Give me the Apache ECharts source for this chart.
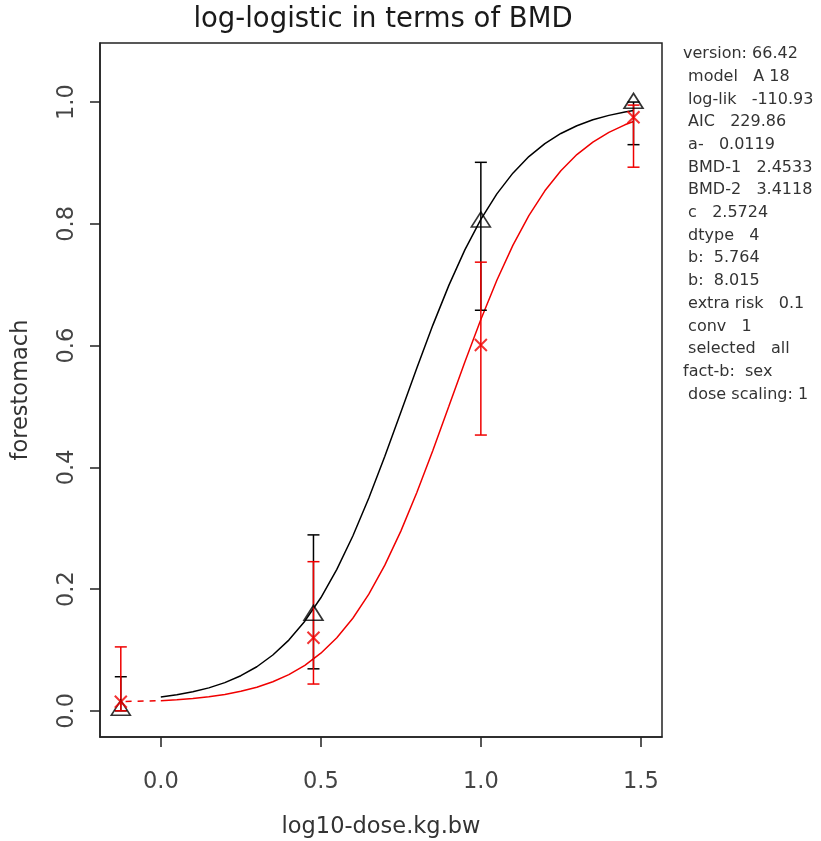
<!DOCTYPE html>
<html>
<head>
<meta charset="utf-8">
<script src="https://cdn.jsdelivr.net/npm/echarts@6/dist/echarts.min.js"></script>
<style>
html,body{margin:0;padding:0;background:#fff;}
#c{width:821px;height:841px;}
</style>
</head>
<body>
<div id="c"></div>
<script>
// ---- data ----
const doseX = [-0.125, 0.477, 1.0, 1.477];
const blackObs = [0.005, 0.161, 0.807, 1.002];
const blackLow = [0.0, 0.069, 0.658, 0.930];
const blackHigh = [0.056, 0.289, 0.901, 1.0];
const redObs = [0.015, 0.120, 0.601, 0.975];
const redLow = [0.0, 0.044, 0.453, 0.893];
const redHigh = [0.105, 0.245, 0.737, 0.995];

const curveX = [0, 0.05, 0.10, 0.15, 0.20, 0.25, 0.30, 0.35, 0.40, 0.45, 0.50, 0.55, 0.60, 0.65, 0.70, 0.75, 0.80, 0.85, 0.90, 0.95, 1.00, 1.05, 1.10, 1.15, 1.20, 1.25, 1.30, 1.35, 1.40, 1.45, 1.477];
const blackCurve = [0.0227, 0.0264, 0.0312, 0.0377, 0.0463, 0.0577, 0.0724, 0.0917, 0.1162, 0.1473, 0.1857, 0.2323, 0.2871, 0.3495, 0.4180, 0.4903, 0.5632, 0.6336, 0.6989, 0.7571, 0.8072, 0.8491, 0.8832, 0.9104, 0.9318, 0.9484, 0.9611, 0.9708, 0.9781, 0.9836, 0.9860];
const redCurve = [0.0166, 0.0181, 0.0203, 0.0231, 0.0269, 0.0320, 0.0388, 0.0477, 0.0595, 0.0748, 0.0947, 0.1201, 0.1521, 0.1916, 0.2393, 0.2952, 0.3586, 0.4277, 0.5002, 0.5730, 0.6429, 0.7073, 0.7645, 0.8134, 0.8542, 0.8873, 0.9137, 0.9343, 0.9503, 0.9626, 0.9680];
const redDashX = [-0.11, 0.0];
const redDashY = [0.0155, 0.0166];

const xTicks = [0, 0.5, 1.0, 1.5];
const yTicks = [0, 0.2, 0.4, 0.6, 0.8, 1.0];
const xTickLabels = ['0.0', '0.5', '1.0', '1.5'];
const yTickLabels = ['0.0', '0.2', '0.4', '0.6', '0.8', '1.0'];

const titleText = 'log-logistic in terms of BMD';
const xName = 'log10-dose.kg.bw';
const yName = 'forestomach';
const infoLines = ['version: 66.42', ' model   A 18', ' log-lik   -110.93', ' AIC   229.86', ' a-   0.0119', ' BMD-1   2.4533', ' BMD-2   3.4118', ' c   2.5724', ' dtype   4', ' b:  5.764', ' b:  8.015', ' extra risk   0.1', ' conv   1', ' selected   all', 'fact-b:  sex', ' dose scaling: 1'];

// ---- chart ----
const FONT = '"DejaVu Sans", "Liberation Sans", sans-serif';
const RED = '#f00000';
const chart = echarts.init(document.getElementById('c'), null, {renderer: 'canvas'});

function pairs(xs, ys) { return xs.map((x, i) => [x, ys[i]]); }
function bars(xs, lo, hi) { return xs.map((x, i) => [x, lo[i], hi[i]]); }

function errRender(color) {
  return function (params, api) {
    const x = api.value(0);
    const p1 = api.coord([x, api.value(1)]);
    const p2 = api.coord([x, api.value(2)]);
    const w = 6;
    const style = {stroke: color, lineWidth: 1.5};
    return {
      type: 'group',
      children: [
        {type: 'line', shape: {x1: p1[0], y1: p1[1], x2: p2[0], y2: p2[1]}, style: style},
        {type: 'line', shape: {x1: p1[0] - w, y1: p1[1], x2: p1[0] + w, y2: p1[1]}, style: style},
        {type: 'line', shape: {x1: p2[0] - w, y1: p2[1], x2: p2[0] + w, y2: p2[1]}, style: style}
      ]
    };
  };
}

const graphics = infoLines.map((t, i) => ({
  type: 'text',
  x: 683,
  y: 54 + i * 22.7,
  style: {text: t, font: '16px ' + FONT, fill: '#333', verticalAlign: 'middle', align: 'left'}
}));

const option = {
  animation: false,
  backgroundColor: '#fff',
  title: {
    text: titleText, left: 378, top: 1, textAlign: 'center',
    textStyle: {fontFamily: FONT, fontSize: 27.5, fontWeight: 'normal', color: '#1a1a1a'}
  },
  grid: {left: 100, right: 159, top: 43, bottom: 104, outerBoundsMode: 'none', containLabel: false,
    show: true, borderColor: '#222', borderWidth: 1.5, backgroundColor: 'transparent'},
  xAxis: {
    type: 'value', min: -0.19, max: 1.566,
    name: xName, nameLocation: 'middle', nameGap: 79,
    nameTextStyle: {fontFamily: FONT, fontSize: 22.5, color: '#333'},
    axisLine: {show: true, onZero: false, lineStyle: {color: '#222', width: 1.5}},
    axisTick: {show: true, length: 10, lineStyle: {color: '#222', width: 1.5}, customValues: xTicks},
    axisLabel: {fontFamily: FONT, fontSize: 22.5, color: '#444', margin: 34, customValues: xTicks,
      formatter: v => xTickLabels[xTicks.indexOf(v)] ?? ''},
    splitLine: {show: false}
  },
  yAxis: {
    type: 'value', min: -0.043, max: 1.097,
    name: yName, nameLocation: 'middle', nameGap: 67,
    nameTextStyle: {fontFamily: FONT, fontSize: 22.5, color: '#333'},
    axisLine: {show: true, onZero: false, lineStyle: {color: '#222', width: 1.5}},
    axisTick: {show: true, length: 10, lineStyle: {color: '#222', width: 1.5}, customValues: yTicks},
    axisLabel: {fontFamily: FONT, fontSize: 22.5, color: '#444', margin: 21, rotate: 90, customValues: yTicks,
      formatter: v => yTickLabels[yTicks.findIndex(t => Math.abs(t - v) < 1e-9)] ?? ''},
    splitLine: {show: false}
  },
  graphic: graphics,
  series: [
    {type: 'line', data: pairs(curveX, blackCurve), showSymbol: false, symbol: 'none', lineStyle: {color: '#000', width: 1.5}, z: 2},
    {type: 'line', data: pairs(curveX, redCurve), showSymbol: false, symbol: 'none', lineStyle: {color: RED, width: 1.5}, z: 3},
    {type: 'line', data: pairs(redDashX, redDashY), showSymbol: false, symbol: 'none', lineStyle: {color: RED, width: 1.5, type: [6, 6]}, z: 3},
    {type: 'custom', data: bars(doseX, blackLow, blackHigh), renderItem: errRender('#000'), z: 4},
    {type: 'custom', data: bars(doseX, redLow, redHigh), renderItem: errRender(RED), z: 5},
    {type: 'scatter', data: pairs(doseX, blackObs), symbol: 'triangle', symbolSize: [19, 15],
      itemStyle: {color: 'rgba(0,0,0,0)', borderColor: '#000', borderWidth: 1.6}, z: 6},
    {type: 'scatter', data: pairs(doseX, redObs), symbol: 'path://M0,0L10,10M10,0L0,10', symbolSize: 12,
      itemStyle: {color: 'rgba(0,0,0,0)', borderColor: RED, borderWidth: 2}, z: 7}
  ]
};
chart.setOption(option);
</script>
</body>
</html>
